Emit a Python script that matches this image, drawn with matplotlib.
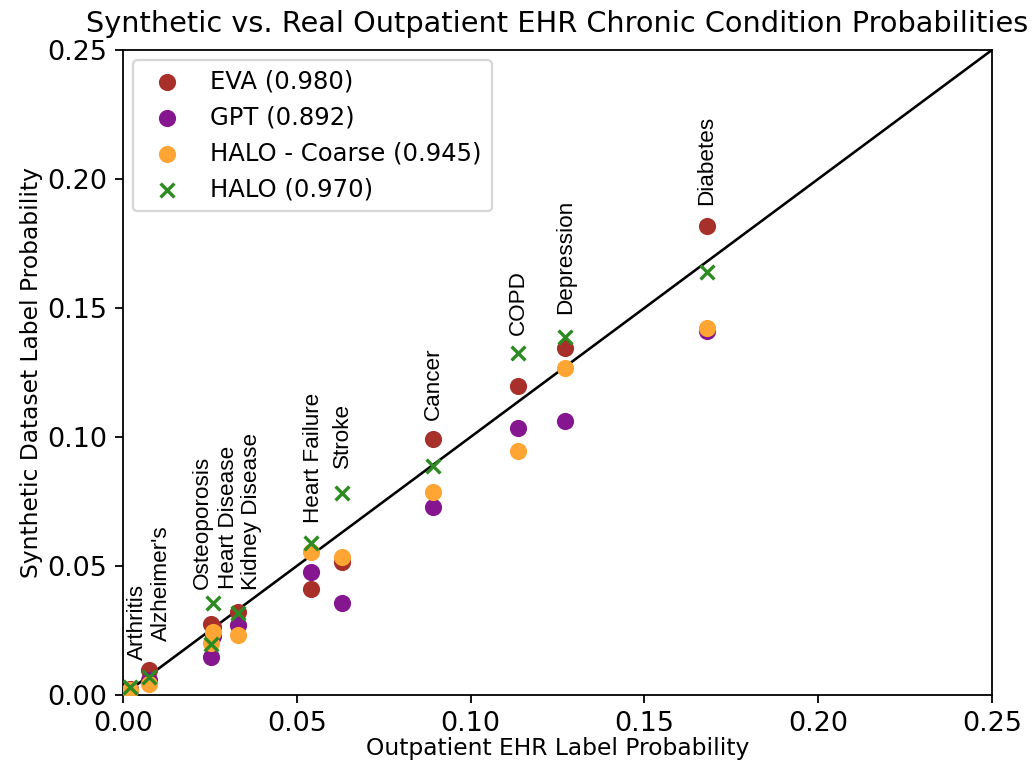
import matplotlib
matplotlib.use("Agg")
import matplotlib.pyplot as plt

conditions = ["Arthritis", "Alzheimer's", "Osteoporosis", "Heart Disease", "Kidney Disease",
              "Heart Failure", "Stroke", "Cancer", "COPD", "Depression", "Diabetes"]
real = [0.0020, 0.0075, 0.0253, 0.0258, 0.0331, 0.0541, 0.0630, 0.0892, 0.1136, 0.1272, 0.1680]
eva = [0.0022, 0.0097, 0.0275, 0.0262, 0.0320, 0.0411, 0.0516, 0.0992, 0.1198, 0.1345, 0.1818]
gpt = [0.0018, 0.0060, 0.0147, 0.0230, 0.0270, 0.0477, 0.0357, 0.0729, 0.1035, 0.1062, 0.1410]
coarse = [0.0020, 0.0043, 0.0200, 0.0244, 0.0233, 0.0554, 0.0535, 0.0787, 0.0946, 0.1267, 0.1422]
halo = [0.0030, 0.0070, 0.0198, 0.0357, 0.0318, 0.0589, 0.0783, 0.0888, 0.1326, 0.1388, 0.1640]

series_labels = ["EVA (0.980)", "GPT (0.892)", "HALO - Coarse (0.945)", "HALO (0.970)"]

# annotation offsets (points) used to separate crowded labels
label_dx = [3.5, 5.3, -4, 7, 6, 1, 0, 0, 0, 0, 0]
label_dy = [12, 13, 6, 6, 10, 9, 11, 8.5, 8, 10, 9.5]

fig = plt.figure(figsize=(6.4, 4.774), dpi=161.72)
ax = fig.add_axes([123 / 1035, 1 - 695 / 772, (992 - 123) / 1035, (695 - 50) / 772])

ax.plot([0, 0.25], [0, 0.25], color="black", lw=1.15, zorder=1)
ax.scatter(real, eva, color="#a8302a", s=44, label=series_labels[0], zorder=2)
ax.scatter(real, gpt, color="#85168f", s=44, label=series_labels[1], zorder=3)
ax.scatter(real, coarse, color="#ffa533", s=44, label=series_labels[2], zorder=4)
ax.scatter(real, halo, color="#2e8b22", marker="x", s=38, linewidths=1.5,
           label=series_labels[3], zorder=5)

top = [max(v) for v in zip(eva, gpt, coarse, halo)]
top[2] = top[3]
for name, x, t, dx, dy in zip(conditions, real, top, label_dx, label_dy):
    ax.annotate(name, xy=(x, t), xytext=(dx, dy), textcoords="offset points",
                rotation=90, ha="center", va="bottom", fontsize=10,
                family="Liberation Sans")

ax.set_xlim(0, 0.25)
ax.set_ylim(0, 0.25)
ax.set_xticks([0, 0.05, 0.10, 0.15, 0.20, 0.25])
ax.set_yticks([0, 0.05, 0.10, 0.15, 0.20, 0.25])
ax.tick_params(labelsize=12)
ax.set_xlabel("Outpatient EHR Label Probability", fontsize=10.4, labelpad=0)
ax.set_ylabel("Synthetic Dataset Label Probability", fontsize=10.4, labelpad=2)
ax.set_title("Synthetic vs. Real Outpatient EHR Chronic Condition Probabilities",
             fontsize=12.8, pad=8)
ax.legend(loc="upper left", fontsize=10.8, borderaxespad=0.4)

fig.savefig("out.png", dpi=161.72)
